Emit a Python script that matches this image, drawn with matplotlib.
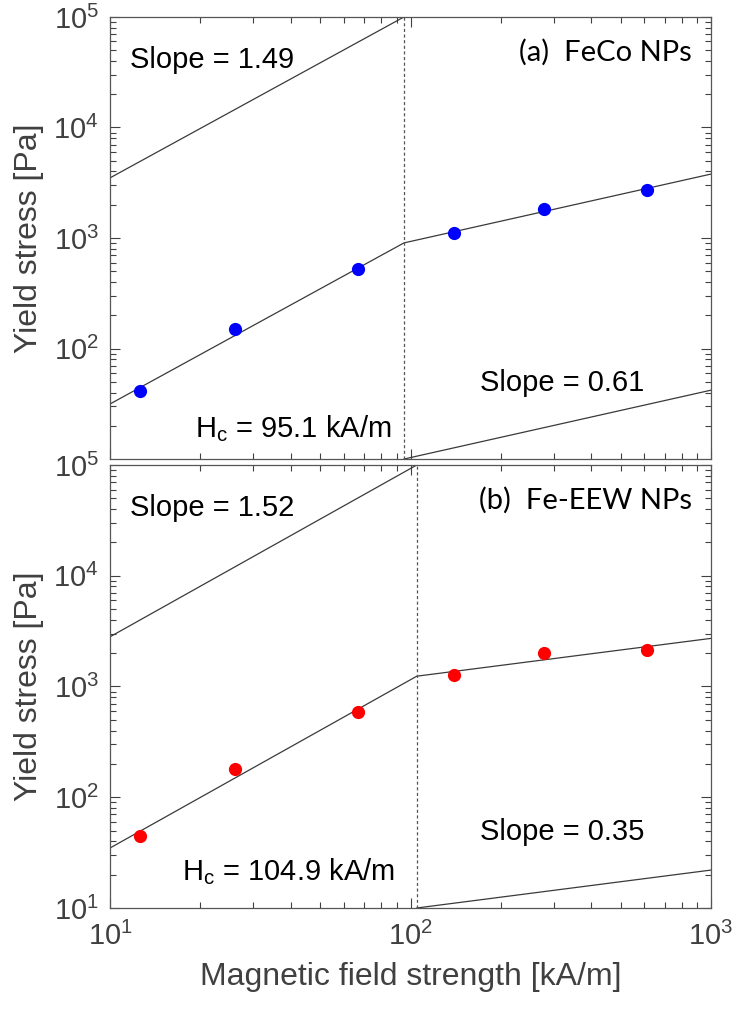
import numpy as np
import matplotlib
matplotlib.use('Agg')
from matplotlib import pyplot as plt
from matplotlib.ticker import LogLocator, NullFormatter

plt.rcParams['font.family'] = ['Liberation Sans', 'DejaVu Sans']
plt.rcParams['mathtext.fontset'] = 'custom'
plt.rcParams['mathtext.rm'] = 'Liberation Sans'

# measured points (field kA/m, yield stress Pa)
field = [12.6, 26.0, 67.0, 139.0, 278.0, 611.0]
stress_feco = [41.5, 149.0, 521.0, 1110.0, 1840.0, 2735.0]
stress_feeew = [45.0, 179.0, 590.0, 1273.0, 2011.0, 2138.0]

# critical field
hc_feco = 95.1
hc_feeew = 104.9

# fitted piecewise power law
fit_feco_x = [10, 95.1, 1000]
fit_feco_y = [31.5, 903, 3790]
fit_feeew_x = [10, 104.9, 1000]
fit_feeew_y = [34.8, 1239, 2720]

# slope guide lines
guide_feco_lo_x = [10, 95.1]
guide_feco_lo_y = [3500, 1e5]
guide_feco_hi_x = [95.1, 1000]
guide_feco_hi_y = [10, 42]
guide_feeew_lo_x = [10, 104.9]
guide_feeew_lo_y = [2810, 1e5]
guide_feeew_hi_x = [104.9, 1000]
guide_feeew_hi_y = [10, 22]

slope_labels_feco = ['Slope = 1.49', 'Slope = 0.61']
slope_labels_feeew = ['Slope = 1.52', 'Slope = 0.35']

gray = '#404040'
linec = '#3a3a3a'

fig = plt.figure(figsize=(7.36, 10.1), dpi=100)
ax1 = fig.add_axes([0.1495, 0.5455, 0.8166, 0.4377])
ax2 = fig.add_axes([0.1495, 0.1010, 0.8166, 0.4386])


def setup(ax):
    ax.set_xscale('log')
    ax.set_yscale('log')
    ax.set_xlim(10, 1000)
    ax.set_ylim(10, 1e5)
    ax.tick_params(which='both', direction='in', top=True, right=True, colors=gray,
                   labelsize=21, width=0.8)
    ax.tick_params(axis='y', which='major', pad=8)
    ax.tick_params(axis='x', which='major', pad=10)
    ax.tick_params(which='major', length=7)
    ax.tick_params(which='minor', length=4)
    ax.xaxis.set_minor_locator(LogLocator(base=10, subs=np.arange(2, 10)))
    ax.yaxis.set_minor_locator(LogLocator(base=10, subs=np.arange(2, 10)))
    ax.xaxis.set_minor_formatter(NullFormatter())
    ax.yaxis.set_minor_formatter(NullFormatter())
    for s in ax.spines.values():
        s.set_color('#555555')
        s.set_linewidth(0.9)
    ax.set_ylabel('Yield stress [Pa]', fontsize=23, color=gray)
    ax.yaxis.set_label_coords(-0.11, 0.5)


def panel(ax, y, color, hc, fx, fy, glx, gly, ghx, ghy, slopes, tag, hctxt, hcx, hcy):
    setup(ax)
    ax.plot(fx, fy, '-', color=linec, lw=0.9)
    ax.plot(glx, gly, '-', color=linec, lw=0.9)
    ax.plot(ghx, ghy, '-', color=linec, lw=0.9)
    ax.plot([hc, hc], [10, 1e5], color='#555555', lw=0.9, dashes=(2.5, 2))
    ax.plot(field, y, 'o', color=color, markersize=9.5, markeredgewidth=0, zorder=3)
    ax.text(0.033, 0.903, slopes[0], transform=ax.transAxes, fontsize=21, va='center', ha='left')
    ax.text(0.616, 0.172, slopes[1], transform=ax.transAxes, fontsize=21, va='center', ha='left')
    ax.text(0.968, 0.921, tag, transform=ax.transAxes, fontsize=21, va='center', ha='right',
            family=['Lato', 'DejaVu Sans'])
    ax.text(hcx, hcy, hctxt, transform=ax.transAxes, fontsize=21, va='center', ha='left')


panel(ax1, stress_feco, '#0000ff', hc_feco, fit_feco_x, fit_feco_y,
      guide_feco_lo_x, guide_feco_lo_y, guide_feco_hi_x, guide_feco_hi_y,
      slope_labels_feco, '(a)  FeCo NPs', r'H$_\mathregular{c}$ = 95.1 kA/m', 0.141, 0.068)
panel(ax2, stress_feeew, '#ff0000', hc_feeew, fit_feeew_x, fit_feeew_y,
      guide_feeew_lo_x, guide_feeew_lo_y, guide_feeew_hi_x, guide_feeew_hi_y,
      slope_labels_feeew, '(b)  Fe-EEW NPs', r'H$_\mathregular{c}$ = 104.9 kA/m', 0.12, 0.083)

ax1.set_yticks([1e2, 1e3, 1e4, 1e5])
ax1.tick_params(axis='x', which='both', labelbottom=False)
ax2.set_yticks([1e1, 1e2, 1e3, 1e4, 1e5])
ax2.set_xlabel('Magnetic field strength [kA/m]', fontsize=23, color=gray, labelpad=8)

fig.savefig('out.png', dpi=100)
